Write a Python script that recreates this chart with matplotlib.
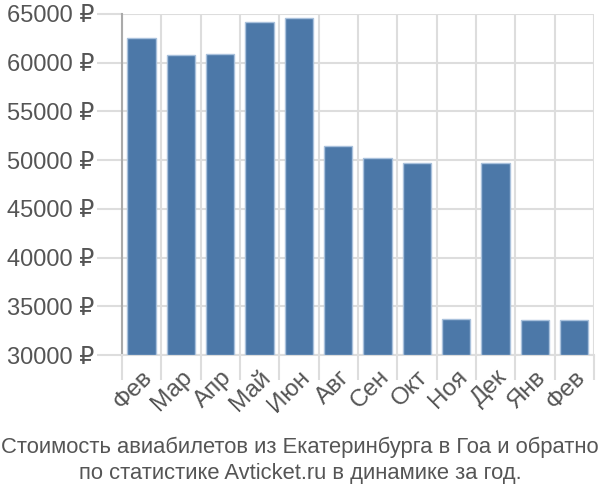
import matplotlib
matplotlib.use("Agg")
import matplotlib.pyplot as plt
from matplotlib.ticker import FixedLocator

months = ["Фев", "Мар", "Апр", "Май", "Июн", "Авг", "Сен", "Окт", "Ноя", "Дек", "Янв", "Фев"]
prices = [62500, 60800, 60900, 64200, 64600, 51500, 50200, 49700, 33700, 49700, 33600, 33600]
yticks = [30000, 35000, 40000, 45000, 50000, 55000, 60000, 65000]
title_lines = ["Стоимость авиабилетов из Екатеринбурга в Гоа и обратно",
               "по статистике Avticket.ru в динамике за год."]

plt.rcParams['font.family'] = ['Liberation Sans', 'DejaVu Sans']

fig = plt.figure(figsize=(6, 5), dpi=100)
ax = fig.add_axes([0.203, 0.29, 0.787, 0.682])

x = list(range(len(months)))
ax.bar(x, [p - 30000 for p in prices], bottom=30000, width=0.72,
       color="#4c78a8", edgecolor="#a9c1dc", linewidth=1, zorder=3)

ax.set_xlim(-0.5, len(months) - 0.5)
ax.set_ylim(30000, 65000)
ax.set_yticks(yticks)
ax.set_yticklabels([f"{v} ₽" for v in yticks])
ax.set_xticks(x)
ax.set_xticklabels(months, rotation=45, ha="right", rotation_mode="anchor")
ax.xaxis.set_minor_locator(FixedLocator([i - 0.5 for i in range(len(months) + 1)]))

ax.tick_params(axis="y", length=18, width=1.5, color="#dddddd", labelsize=17,
               labelcolor="#555555", pad=2)
ax.tick_params(axis="x", which="major", length=0, labelsize=17.5,
               labelcolor="#555555", pad=8)
ax.tick_params(axis="x", which="minor", length=18, width=1.5, color="#dddddd")

ax.grid(True, axis="y", color="#dddddd", linewidth=1.5, zorder=0)
ax.grid(True, axis="x", which="minor", color="#dddddd", linewidth=1.5, zorder=0)
ax.grid(False, axis="x", which="major")

for s in ["top", "right"]:
    ax.spines[s].set_visible(False)
ax.spines["left"].set_color("#aaaaaa")
ax.spines["left"].set_linewidth(1.5)
ax.spines["bottom"].set_color("#dddddd")
ax.spines["bottom"].set_linewidth(1.5)

fig.text(0.5, 0.106, title_lines[0], ha="center", va="center", fontsize=15.8, color="#555555")
fig.text(0.5, 0.053, title_lines[1], ha="center", va="center", fontsize=15.8, color="#555555")

fig.savefig("out.png", dpi=100)
